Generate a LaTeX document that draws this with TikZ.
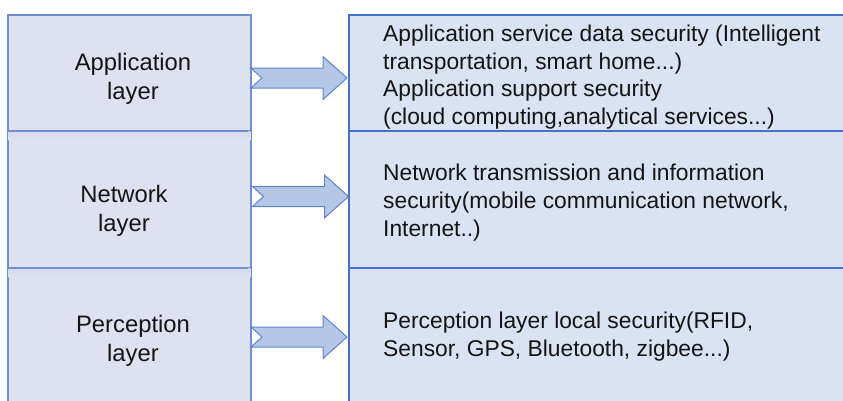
\documentclass[tikz,border=0pt]{standalone}
\usepackage{fontspec}
\setmainfont{Liberation Sans}
\usetikzlibrary{calc}

\definecolor{leftfill}{RGB}{222,226,240}
\definecolor{leftshade}{RGB}{213,218,236}
\definecolor{leftline}{RGB}{111,143,208}
\definecolor{rightfill}{RGB}{218,227,243}
\definecolor{rightline}{RGB}{68,114,196}
\definecolor{arrowfill}{RGB}{180,199,231}
\definecolor{arrowline}{RGB}{96,132,204}
\definecolor{textcol}{RGB}{20,20,20}

\tikzset{
  layerbox/.style={draw=leftline, fill=leftfill, line width=1.2pt,
    inner sep=0pt, outer sep=0pt, minimum width=243pt},
  securitybox/.style={draw=rightline, fill=rightfill, line width=1.2pt,
    inner sep=0pt, outer sep=0pt, minimum width=511pt},
  layertext/.style={anchor=base, inner sep=0pt, text=textcol,
    font=\fontsize{23.8}{29}\selectfont},
  securitytext/.style={anchor=base west, inner sep=0pt, text=textcol,
    font=\fontsize{22.8}{27.5}\selectfont},
  blockarrow/.pic={
    \draw[draw=arrowline, fill=arrowfill, line width=1pt, line join=miter]
      (0,-10) -- (72,-10) -- (72,-21.5) -- (96,0) -- (72,21.5)
      -- (72,10) -- (0,10) -- (11,0) -- cycle;
  }
}

\begin{document}
\begin{tikzpicture}[x=1pt, y=-1pt]
\useasboundingbox (0,0) rectangle (843,400);
\clip (0,0) rectangle (843,400);

% layer column
\node[layerbox, minimum height=116pt] (L1) at (129.5,73) {};
\node[layerbox, minimum height=137pt] (L2) at (129.5,199.5) {};
\node[layerbox, minimum height=142pt] (L3) at (129.5,339) {};
% soft shadow under each divider
\shade[top color=leftshade, bottom color=leftfill]
  ($(L2.north west)+(0.6,0.6)$) rectangle ($(L2.north east)+(-0.6,9)$);
\shade[top color=leftshade, bottom color=leftfill]
  ($(L3.north west)+(0.6,0.6)$) rectangle ($(L3.north east)+(-0.6,9)$);
\draw[leftline, line width=1.2pt] (L2.north west) -- ($(L2.north east)+(-3,0)$);
\draw[leftline, line width=1.2pt] (L3.north west) -- ($(L3.north east)+(-3,0)$);

% security column
\node[securitybox, minimum height=116pt] (R1) at (604.5,73) {};
\node[securitybox, minimum height=137pt] (R2) at (604.5,199.5) {};
\node[securitybox, minimum height=142pt] (R3) at (604.5,339) {};

% layer names
\node[layertext] (app1) at (133,70) {Application};
\node[layertext] (app2) at (133,99) {layer};
\node[layertext] (net1) at (124,202.7) {Network};
\node[layertext] (net2) at (124,231.7) {layer};
\node[layertext] (per1) at (133,332.7) {Perception};
\node[layertext] (per2) at (133,361.7) {layer};

% security descriptions
\node[securitytext] (s11) at (383,41.7) {Application service data security (Intelligent};
\node[securitytext] (s12) at (383,69.4) {transportation, smart home...)};
\node[securitytext] (s13) at (383,96.7) {Application support security};
\node[securitytext] (s14) at (383,124.3) {(cloud computing,analytical services...)};

\node[securitytext] (s21) at (383,180.2) {Network transmission and information};
\node[securitytext] (s22) at (383,208.3) {security(mobile communication network,};
\node[securitytext] (s23) at (383,236.2) {Internet..)};

\node[securitytext] (s31) at (383,328.4) {Perception layer local security(RFID,};
\node[securitytext] (s32) at (383,356.7) {Sensor, GPS, Bluetooth, zigbee...)};

% block arrows from each layer to its security scope
\pic at ($(L1.east)+(0,5)$) {blockarrow};
\pic at ($(L2.east)+(1.5,-3)$) {blockarrow};
\pic at ($(L3.east)+(0,-2)$) {blockarrow};
\end{tikzpicture}
\end{document}
